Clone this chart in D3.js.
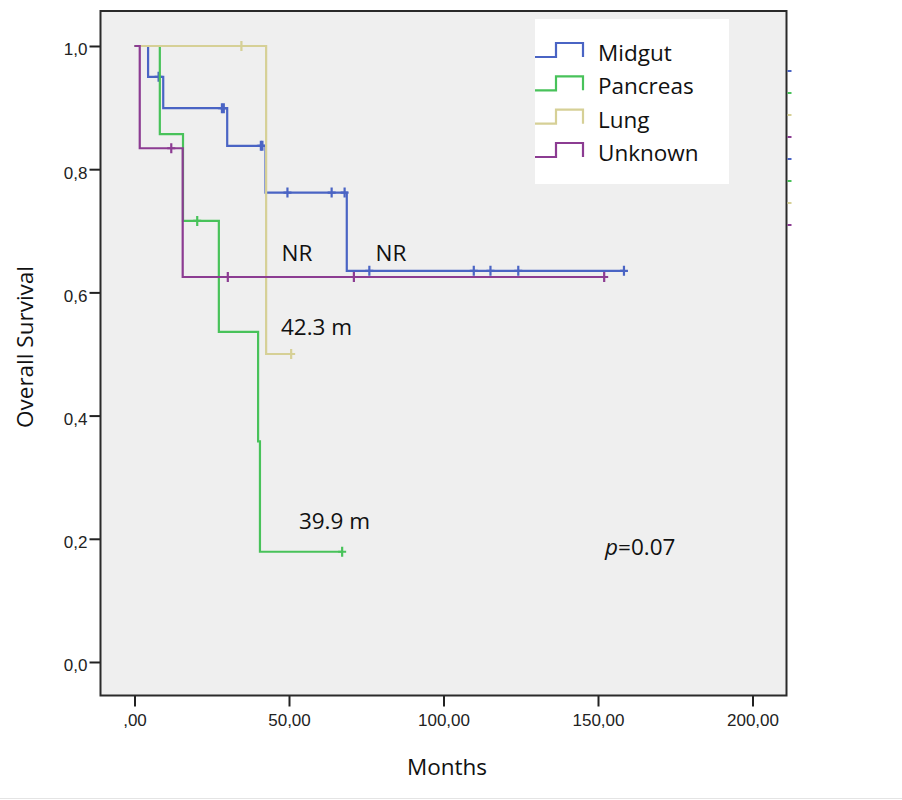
<!DOCTYPE html>
<html>
<head>
<meta charset="utf-8">
<script src="https://cdn.jsdelivr.net/npm/d3@7"></script>
<style>
  body { margin: 0; background: #fff; }
  svg { display: block; }
</style>
</head>
<body>
<div class="chart"></div>
<script>
// groups, colours and Kaplan-Meier steps
const groups = ["Midgut", "Pancreas", "Lung", "Unknown"];
const colors = ["#4a64c4", "#48c25a", "#d6d096", "#8c3c92"];

// [time in months, survival after the drop]
const midgutSteps   = [[0, 1.0], [4.4, 0.95], [9.3, 0.899], [30, 0.838], [42.4, 0.762], [68.7, 0.635]];
const pancreasSteps = [[0, 1.0], [8.2, 0.857], [15.7, 0.716], [27.3, 0.536], [40.0, 0.358], [40.6, 0.179]];
const lungSteps     = [[0, 1.0], [42.6, 0.5]];
const unknownSteps  = [[0, 1.0], [1.7, 0.834], [15.6, 0.625]];

// censored cases (months)
const midgutCensor   = [7.8, 28.3, 28.9, 40.9, 41.4, 49.5, 63.8, 68.0, 76.0, 109.8, 115.2, 124.2, 158.4];
const pancreasCensor = [20.3, 67.2];
const lungCensor     = [34.6, 50.7];
const unknownCensor  = [11.9, 30.2, 71.0, 152.0];

const xTicks = [0, 50, 100, 150, 200];
const yTicks = [0, 0.2, 0.4, 0.6, 0.8, 1.0];

// text notes: [label, months, survival]
const notes = [
    ["NR", 52.6, 0.651, "middle"],
    ["NR", 83.0, 0.651, "middle"],
    ["42.3 m", 47.4, 0.531, "start"],
    ["39.9 m", 53.2, 0.216, "start"]
];

const series = [
    {steps: midgutSteps, censor: midgutCensor},
    {steps: pancreasSteps, censor: pancreasCensor},
    {steps: lungSteps, censor: lungCensor},
    {steps: unknownSteps, censor: unknownCensor}
];

const width = 902, height = 800;
const frame = {left: 100.5, right: 786.5, top: 11, bottom: 695.5};

const svg = d3.select(".chart")
    .append("svg")
    .attr("width", width)
    .attr("height", height)
    .attr("viewBox", [0, 0, width, height]);

const xScale = d3.scaleLinear()
    .domain([-11, 211])
    .range([frame.left, frame.right]);
const yScale = d3.scaleLinear()
    .domain([-0.0544, 1.0568])
    .range([frame.bottom, frame.top]);

const comma = f => (d => {
    let s = d3.format(f)(d).replace(".", ",");
    return s === "0,00" ? ",00" : s;
});

// plot background
svg.append("rect")
    .attr("x", frame.left)
    .attr("y", frame.top)
    .attr("width", frame.right - frame.left)
    .attr("height", frame.bottom - frame.top)
    .attr("fill", "#efefef");

// axes
svg.append("g")
    .attr("transform", `translate(0,${frame.bottom})`)
    .call(d3.axisBottom(xScale).tickValues(xTicks).tickFormat(comma(".2f")).tickSize(11).tickPadding(7))
    .call(g => g.select(".domain").remove())
    .call(g => g.selectAll(".tick line").attr("stroke", "#222").attr("stroke-width", 2))
    .call(g => g.selectAll(".tick text")
        .attr("font-family", "Liberation Sans, Arial, sans-serif")
        .attr("font-size", 17)
        .attr("fill", "#222"));

svg.append("g")
    .attr("transform", `translate(${frame.left},0)`)
    .call(d3.axisLeft(yScale).tickValues(yTicks).tickFormat(comma(".1f")).tickSize(11).tickPadding(2))
    .call(g => g.select(".domain").remove())
    .call(g => g.selectAll(".tick line").attr("stroke", "#222").attr("stroke-width", 2))
    .call(g => g.selectAll(".tick text")
        .attr("dy", "0.52em")
        .attr("font-family", "Liberation Sans, Arial, sans-serif")
        .attr("font-size", 17)
        .attr("fill", "#222"));

// axis titles
svg.append("text")
    .attr("x", 447)
    .attr("y", 775)
    .attr("text-anchor", "middle")
    .attr("font-family", "Open Sans, sans-serif")
    .attr("font-size", 22.5)
    .attr("fill", "#111")
    .text("Months");

svg.append("text")
    .attr("transform", "translate(33,347) rotate(-90)")
    .attr("text-anchor", "middle")
    .attr("font-family", "Open Sans, sans-serif")
    .attr("font-size", 22.5)
    .attr("fill", "#111")
    .text("Overall Survival");

// survival curves
function stepPoints(s) {
    const end = d3.max(s.censor);
    const pts = [];
    s.steps.forEach((d, i) => {
        if (i > 0) pts.push([d[0], s.steps[i - 1][1]]);
        pts.push(d);
    });
    pts.push([end, s.steps[s.steps.length - 1][1]]);
    return pts;
}
function survAt(s, t) {
    let v = 1;
    s.steps.forEach(d => { if (d[0] <= t) v = d[1]; });
    return v;
}

const line = d3.line()
    .x(d => xScale(d[0]))
    .y(d => yScale(d[1]));

const curves = svg.append("g");
series.forEach((s, i) => {
    const g = curves.append("g")
        .attr("stroke", colors[i])
        .attr("stroke-width", 2.2)
        .attr("fill", "none");
    g.append("path")
        .datum(stepPoints(s))
        .attr("d", line);
    g.selectAll("path.cens")
        .data(s.censor)
        .join("path")
        .attr("class", "cens")
        .attr("d", t => {
            const cx = xScale(t), cy = yScale(survAt(s, t));
            return `M${cx},${cy - 5}V${cy + 5}M${cx - 4},${cy}H${cx + 4}`;
        });
});

// notes
svg.append("g")
    .selectAll("text")
    .data(notes)
    .join("text")
    .attr("x", d => xScale(d[1]))
    .attr("y", d => yScale(d[2]))
    .attr("text-anchor", d => d[3])
    .attr("font-family", "Open Sans, sans-serif")
    .attr("font-size", 22.5)
    .attr("fill", "#111")
    .text(d => d[0]);

const pText = svg.append("text")
    .attr("x", xScale(152.3))
    .attr("y", yScale(0.174))
    .attr("font-family", "Open Sans, sans-serif")
    .attr("font-size", 22.5)
    .attr("fill", "#111");
pText.append("tspan").attr("font-style", "italic").text("p");
pText.append("tspan").text("=0.07");

// frame
svg.append("rect")
    .attr("x", frame.left)
    .attr("y", frame.top)
    .attr("width", frame.right - frame.left)
    .attr("height", frame.bottom - frame.top)
    .attr("fill", "none")
    .attr("stroke", "#2a2a2a")
    .attr("stroke-width", 2);

// small coloured legend stubs on the right edge
const stubY = d3.scalePoint()
    .domain(d3.range(8))
    .range([71, 225]);
svg.append("g")
    .selectAll("line")
    .data(d3.range(8))
    .join("line")
    .attr("x1", frame.right + 1)
    .attr("x2", frame.right + 5)
    .attr("y1", d => stubY(d))
    .attr("y2", d => stubY(d))
    .attr("stroke", d => colors[d % 4])
    .attr("stroke-width", 2);

// legend
const legend = svg.append("g");
legend.append("rect")
    .attr("x", 535)
    .attr("y", 19)
    .attr("width", 194)
    .attr("height", 165)
    .attr("fill", "#fff");

const legY = d3.scalePoint()
    .domain(groups)
    .range([53, 153]);

const item = legend.selectAll("g")
    .data(groups)
    .join("g")
    .attr("transform", d => `translate(0,${legY(d)})`);
item.append("path")
    .attr("d", "M535,4H556V-10H583V4")
    .attr("fill", "none")
    .attr("stroke", (d, i) => colors[i])
    .attr("stroke-width", 2.2);
item.append("text")
    .attr("x", 598)
    .attr("y", 8)
    .attr("font-family", "Open Sans, sans-serif")
    .attr("font-size", 22.5)
    .attr("fill", "#111")
    .text(d => d);

// thin grey line at the bottom of the picture
svg.append("line")
    .attr("x1", 0).attr("x2", width)
    .attr("y1", 798.5).attr("y2", 798.5)
    .attr("stroke", "#e4e4e4");
</script>
</body>
</html>
